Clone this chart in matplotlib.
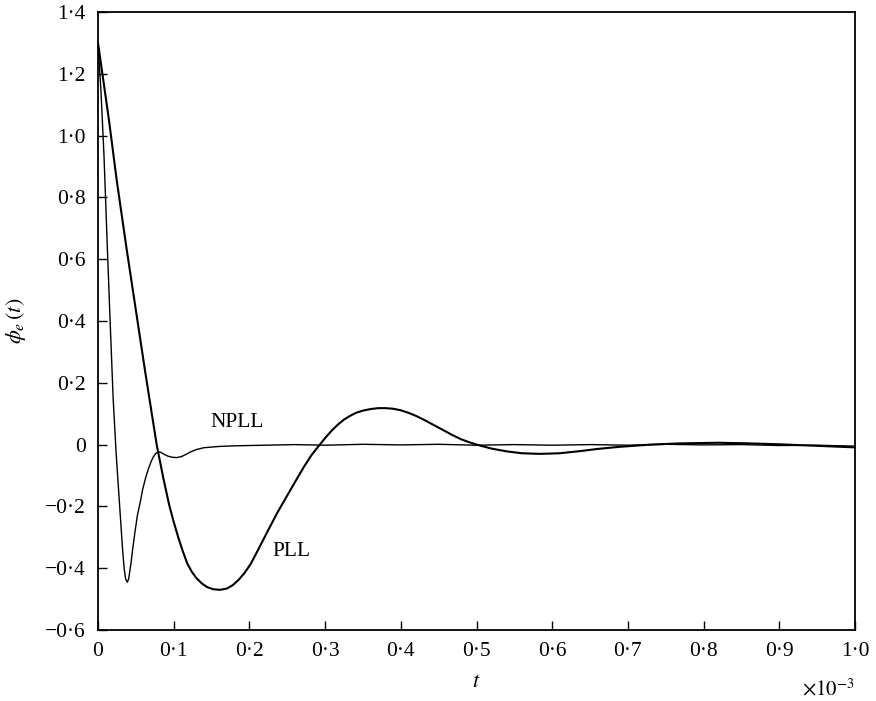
import matplotlib
matplotlib.use("Agg")
import matplotlib.pyplot as plt
from matplotlib.ticker import FixedLocator, FixedFormatter

plt.rcParams['font.family'] = ['Liberation Serif', 'DejaVu Serif']
plt.rcParams['mathtext.fontset'] = 'stix'

# time in units of 1e-3 s
t_npll = [0.000, 0.004, 0.008, 0.012, 0.016, 0.020, 0.024, 0.027, 0.030, 0.0325,
          0.0345, 0.0365, 0.0387, 0.0405, 0.042, 0.0435, 0.046, 0.049, 0.052, 0.0555,
          0.059, 0.063, 0.0665, 0.070, 0.073, 0.0765, 0.0797, 0.083, 0.087, 0.092,
          0.098, 0.104, 0.110, 0.116, 0.122, 0.130, 0.140, 0.160, 0.180, 0.220,
          0.260, 0.300, 0.350, 0.400, 0.450, 0.500, 0.550, 0.600, 0.650, 0.700,
          0.750, 0.800, 0.850, 0.900, 0.950, 1.000]
phi_npll = [1.30, 1.14, 0.93, 0.66, 0.40, 0.15, -0.03, -0.14, -0.25, -0.34,
            -0.40, -0.435, -0.445, -0.435, -0.41, -0.385, -0.335, -0.28, -0.23, -0.19,
            -0.145, -0.107, -0.079, -0.056, -0.040, -0.028, -0.023, -0.025, -0.031, -0.037,
            -0.041, -0.042, -0.039, -0.032, -0.024, -0.016, -0.010, -0.006, -0.004, -0.002,
            0.000, -0.002, 0.001, -0.001, 0.001, -0.002, 0.000, -0.002, 0.000, -0.002,
            0.001, -0.001, 0.000, -0.003, -0.002, -0.005]

t_pll = [0.000, 0.0145, 0.0247, 0.038, 0.062, 0.0775, 0.086, 0.094, 0.100, 0.106,
         0.112, 0.118, 0.124, 0.130, 0.137, 0.144, 0.152, 0.161, 0.170, 0.178,
         0.186, 0.194, 0.202, 0.212, 0.225, 0.237, 0.249, 0.261, 0.272, 0.282,
         0.293, 0.301, 0.309, 0.317, 0.325, 0.333, 0.341, 0.350, 0.360, 0.370,
         0.380, 0.390, 0.400, 0.410, 0.420, 0.430, 0.443, 0.456, 0.468, 0.480,
         0.490, 0.500, 0.520, 0.540, 0.560, 0.584, 0.610, 0.637, 0.660, 0.690,
         0.730, 0.770, 0.820, 0.860, 0.900, 0.950, 1.000]
phi_pll = [1.30, 1.05, 0.856, 0.63, 0.241, 0.0, -0.105, -0.195, -0.25, -0.30,
           -0.345, -0.385, -0.412, -0.432, -0.449, -0.461, -0.468, -0.470, -0.466, -0.455,
           -0.437, -0.414, -0.385, -0.338, -0.276, -0.220, -0.169, -0.118, -0.072, -0.034,
           0.0, 0.024, 0.046, 0.065, 0.081, 0.093, 0.103, 0.110, 0.115, 0.118,
           0.118, 0.116, 0.111, 0.103, 0.093, 0.081, 0.064, 0.047, 0.031, 0.017,
           0.008, 0.0, -0.013, -0.022, -0.028, -0.030, -0.028, -0.021, -0.014, -0.007,
           0.0, 0.004, 0.006, 0.004, 0.001, -0.004, -0.009]

x_ticks = [0.0, 0.1, 0.2, 0.3, 0.4, 0.5, 0.6, 0.7, 0.8, 0.9, 1.0]
x_tick_labels = ['0', '0·1', '0·2', '0·3', '0·4', '0·5', '0·6', '0·7', '0·8', '0·9', '1·0']
y_ticks = [-0.6, -0.4, -0.2, 0.0, 0.2, 0.4, 0.6, 0.8, 1.0, 1.2, 1.4]
y_tick_labels = ['−0·6', '−0·4', '−0·2', '0', '0·2', '0·4', '0·6', '0·8', '1·0', '1·2', '1·4']

fig = plt.figure(figsize=(8.76, 7.01), dpi=100)
ax = fig.add_axes([98/876, 1-630/701, (855-98)/876, (630-12)/701])

ax.plot(t_npll, phi_npll, color='black', lw=1.0, solid_joinstyle='round')
ax.plot(t_pll, phi_pll, color='black', lw=1.5, solid_joinstyle='round')

ax.set_xlim(0, 1.0)
ax.set_ylim(-0.6, 1.4)
ax.xaxis.set_major_locator(FixedLocator(x_ticks))
ax.xaxis.set_major_formatter(FixedFormatter(x_tick_labels))
ax.yaxis.set_major_locator(FixedLocator(y_ticks))
ax.yaxis.set_major_formatter(FixedFormatter(y_tick_labels))
ax.tick_params(direction='in', length=6.5, width=1.0, labelsize=15.5, pad=9,
               top=False, right=False)
for s in ax.spines.values():
    s.set_linewidth(1.3)

ax.text(0.184, 0.07, 'NPLL', fontsize=15.5, ha='center', va='center')
ax.text(0.256, -0.345, 'PLL', fontsize=15.5, ha='center', va='center')

ax.set_xlabel('$t$', fontsize=16, labelpad=8)
ax.set_ylabel(r'$\phi_e\,(t)$', fontsize=16, labelpad=12)
ax.text(1.0, -0.097, r'$\times10^{-3}$', transform=ax.transAxes, fontsize=15,
        ha='right', va='center')

fig.savefig('out.png', dpi=100)
